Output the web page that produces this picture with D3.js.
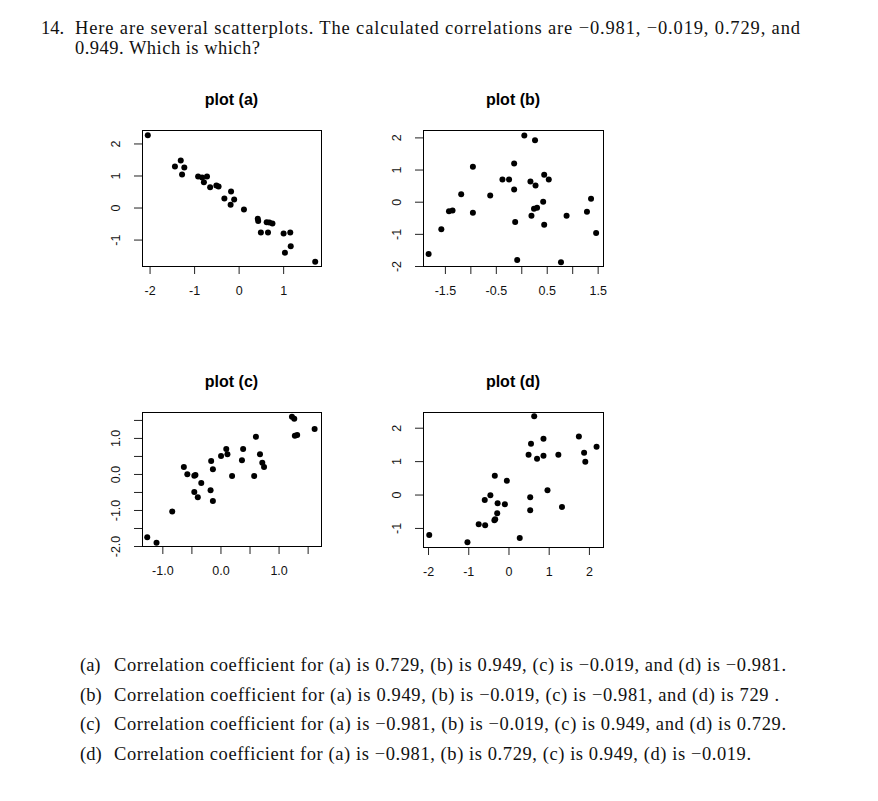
<!DOCTYPE html>
<html>
<head>
<meta charset="utf-8">
<script src="https://cdn.jsdelivr.net/npm/d3@7"></script>
<style>
  body { margin: 0; background: #fff; }
</style>
</head>
<body>
<div id="chart"></div>
<script>
// plot (a): strong negative
const aX = [-2.04, -1.43, -1.30, -1.22, -1.27, -0.91, -0.82, -0.71, -0.78, -0.64, -0.50, -0.45, -0.17, -0.32, -0.10,
            -0.18, 0.12, 0.43, 0.44, 0.63, 0.69, 0.76, 0.50, 0.66, 1.01, 1.16, 1.17, 1.04, 1.72];
const aY = [2.26, 1.28, 1.47, 1.25, 1.03, 0.97, 0.94, 0.97, 0.79, 0.63, 0.69, 0.66, 0.50, 0.28, 0.25,
            0.09, -0.06, -0.35, -0.42, -0.46, -0.47, -0.50, -0.78, -0.78, -0.81, -0.78, -1.21, -1.41, -1.69];

// plot (b): no correlation
const bX = [-1.82, -1.57, -1.42, -1.35, -1.18, -0.95, -0.95, -0.61, -0.37, -0.24, -0.14, -0.14, -0.12, -0.08, 0.06,
            0.27, 0.18, 0.28, 0.45, 0.54, 0.43, 0.25, 0.31, 0.20, 0.45, 0.78, 0.89, 1.29, 1.37, 1.47];
const bY = [-1.63, -0.86, -0.30, -0.27, 0.23, 1.09, -0.34, 0.19, 0.69, 0.69, 1.19, 0.38, -0.63, -1.81, 2.06,
            1.91, 0.63, 0.50, 0.84, 0.69, 0.00, -0.22, -0.19, -0.44, -0.72, -1.88, -0.44, -0.31, 0.09, -0.97];

// plot (c): strong positive
const cX = [-1.26, -1.10, -0.83, -0.63, -0.57, -0.45, -0.43, -0.33, -0.45, -0.39, -0.17, -0.13, -0.16, -0.13, 0.01,
            0.10, 0.12, 0.20, 0.37, 0.39, 0.58, 0.61, 0.68, 0.72, 0.75, 1.23, 1.27, 1.28, 1.32, 1.62];
const cY = [-1.76, -1.91, -1.04, 0.19, -0.01, -0.05, -0.03, -0.25, -0.50, -0.65, -0.45, -0.75, 0.36, 0.13, 0.50,
            0.69, 0.55, -0.06, 0.38, 0.69, -0.06, 1.03, 0.55, 0.31, 0.19, 1.59, 1.53, 1.06, 1.08, 1.25];

// plot (d): moderate positive
const dX = [-1.97, -1.02, -0.74, -0.58, -0.35, -0.33, -0.28, -0.59, -0.45, -0.27, -0.09, -0.34, -0.04, 0.28, 0.54,
            0.54, 0.64, 0.56, 0.50, 0.71, 0.87, 0.87, 1.24, 0.97, 1.33, 1.75, 1.88, 1.91, 2.19];
const dY = [-1.21, -1.43, -0.89, -0.92, -0.77, -0.74, -0.56, -0.16, -0.02, -0.26, -0.29, 0.56, 0.41, -1.30, -0.08,
            -0.47, 2.34, 1.52, 1.19, 1.07, 1.67, 1.16, 1.19, 0.13, -0.37, 1.74, 1.25, 0.98, 1.43];

const aXTicks = [-2, -1, 0, 1];
const aXLabels = ['-2', '-1', '0', '1'];
const aYTicks = [-1, 0, 1, 2];
const aYLabels = ['-1', '0', '1', '2'];

const bXTicks = [-1.5, -1, -0.5, 0, 0.5, 1, 1.5];
const bXLabels = ['-1.5', '', '-0.5', '', '0.5', '', '1.5'];
const bYTicks = [-2, -1, 0, 1, 2];
const bYLabels = ['-2', '-1', '0', '1', '2'];

const cXTicks = [-1, -0.5, 0, 0.5, 1, 1.5];
const cXLabels = ['-1.0', '', '0.0', '', '1.0', ''];
const cYTicks = [-2, -1.5, -1, -0.5, 0, 0.5, 1, 1.5];
const cYLabels = ['-2.0', '', '-1.0', '', '0.0', '', '1.0', ''];

const dXTicks = [-2, -1, 0, 1, 2];
const dXLabels = ['-2', '-1', '0', '1', '2'];
const dYTicks = [-1, 0, 1, 2];
const dYLabels = ['-1', '0', '1', '2'];

const titles = ['plot (a)', 'plot (b)', 'plot (c)', 'plot (d)'];

const questionNumber = '14.';
const questionLines = [
    'Here are several scatterplots. The calculated correlations are \u22120.981, \u22120.019, 0.729, and',
    '0.949. Which is which?'
];
const answerLabels = ['(a)', '(b)', '(c)', '(d)'];
const answerTexts = [
    'Correlation coefficient for (a) is 0.729, (b) is 0.949, (c) is \u22120.019, and (d) is \u22120.981.',
    'Correlation coefficient for (a) is 0.949, (b) is \u22120.019, (c) is \u22120.981, and (d) is 729 .',
    'Correlation coefficient for (a) is \u22120.981, (b) is \u22120.019, (c) is 0.949, and (d) is 0.729.',
    'Correlation coefficient for (a) is \u22120.981, (b) is 0.729, (c) is 0.949, (d) is \u22120.019.'
];

const width = 878;
const height = 801;
const serif = '"Liberation Serif", "DejaVu Serif", serif';
const sans = '"Liberation Sans", Arial, sans-serif';
const textSize = 18.5;

const svg = d3.select('#chart')
    .append('svg')
    .attr('width', width)
    .attr('height', height);

svg.append('rect').attr('width', width).attr('height', height).attr('fill', '#fff');

// question text (LaTeX justified lines, so stretch to measured widths)
const textColor = '#111';
svg.append('text')
    .attr('x', 41).attr('y', 34)
    .attr('font-family', serif).attr('font-size', textSize).attr('fill', textColor)
    .text(questionNumber);
svg.append('text')
    .attr('x', 75).attr('y', 34)
    .attr('font-family', serif).attr('font-size', textSize).attr('fill', textColor)
    .attr('textLength', 725).attr('lengthAdjust', 'spacing')
    .text(questionLines[0]);
svg.append('text')
    .attr('x', 75).attr('y', 54)
    .attr('font-family', serif).attr('font-size', textSize).attr('fill', textColor)
    .attr('textLength', 185).attr('lengthAdjust', 'spacing')
    .text(questionLines[1]);

const answerEnds = [786, 779, 786, 751];
answerTexts.forEach((t, i) => {
    const y = 671 + i * 29.7;
    svg.append('text')
        .attr('x', 80).attr('y', y)
        .attr('font-family', serif).attr('font-size', textSize).attr('fill', textColor)
        .text(answerLabels[i]);
    svg.append('text')
        .attr('x', 114).attr('y', y)
        .attr('font-family', serif).attr('font-size', textSize).attr('fill', textColor)
        .attr('textLength', answerEnds[i] - 114).attr('lengthAdjust', 'spacing')
        .text(t);
});

function drawPanel(p) {
    const x = d3.scaleLinear().domain(p.xDomain).range([p.left, p.left + p.w]);
    const y = d3.scaleLinear().domain(p.yDomain).range([p.top + p.h, p.top]);

    const g = svg.append('g');

    // title
    g.append('text')
        .attr('x', p.left + p.w / 2)
        .attr('y', p.top - 25)
        .attr('text-anchor', 'middle')
        .attr('font-family', sans)
        .attr('font-weight', 'bold')
        .attr('font-size', 16)
        .attr('fill', '#000')
        .text(p.title);

    // x axis
    const xAxis = g.append('g')
        .attr('transform', `translate(0,${p.top + p.h})`)
        .call(d3.axisBottom(x)
            .tickValues(p.xTicks)
            .tickFormat((d, i) => p.xLabels[i])
            .tickSize(8)
            .tickPadding(12));
    xAxis.select('.domain').remove();
    xAxis.selectAll('line').attr('stroke', '#222');
    xAxis.selectAll('text')
        .attr('font-family', sans).attr('font-size', 12.5).attr('fill', '#111');

    // y axis, labels turned like R's default las=0
    const yAxis = g.append('g')
        .attr('transform', `translate(${p.left},0)`)
        .call(d3.axisLeft(y)
            .tickValues(p.yTicks)
            .tickFormat((d, i) => p.yLabels[i])
            .tickSize(8));
    yAxis.select('.domain').remove();
    yAxis.selectAll('line').attr('stroke', '#222');
    yAxis.selectAll('text')
        .attr('x', 0).attr('dy', 0)
        .attr('text-anchor', 'middle')
        .attr('transform', 'translate(-22,0) rotate(-90)')
        .attr('font-family', sans).attr('font-size', 12.5).attr('fill', '#111');

    // points
    g.append('g')
        .selectAll('circle')
        .data(p.xs.map((v, i) => [v, p.ys[i]]))
        .enter()
        .append('circle')
        .attr('cx', d => x(d[0]))
        .attr('cy', d => y(d[1]))
        .attr('r', 3)
        .attr('fill', '#000');

    // frame
    g.append('rect')
        .attr('x', p.left + 0.5)
        .attr('y', p.top + 0.5)
        .attr('width', p.w)
        .attr('height', p.h)
        .attr('fill', 'none')
        .attr('stroke', '#000')
        .attr('stroke-width', 1);
}

drawPanel({ title: titles[0], xs: aX, ys: aY, xDomain: [-2.17, 1.85], yDomain: [-1.825, 2.42],
    xTicks: aXTicks, xLabels: aXLabels, yTicks: aYTicks, yLabels: aYLabels,
    left: 142, top: 130, w: 179, h: 136 });
drawPanel({ title: titles[1], xs: bX, ys: bY, xDomain: [-1.93, 1.605], yDomain: [-2.0, 2.23],
    xTicks: bXTicks, xLabels: bXLabels, yTicks: bYTicks, yLabels: bYLabels,
    left: 423, top: 130, w: 180, h: 136 });
drawPanel({ title: titles[2], xs: cX, ys: cY, xDomain: [-1.35, 1.73], yDomain: [-2.0, 1.72],
    xTicks: cXTicks, xLabels: cXLabels, yTicks: cYTicks, yLabels: cYLabels,
    left: 142, top: 412, w: 179, h: 134 });
drawPanel({ title: titles[3], xs: dX, ys: dY, xDomain: [-2.125, 2.35], yDomain: [-1.57, 2.47],
    xTicks: dXTicks, xLabels: dXLabels, yTicks: dYTicks, yLabels: dYLabels,
    left: 423, top: 412, w: 180, h: 135 });
</script>
</body>
</html>
